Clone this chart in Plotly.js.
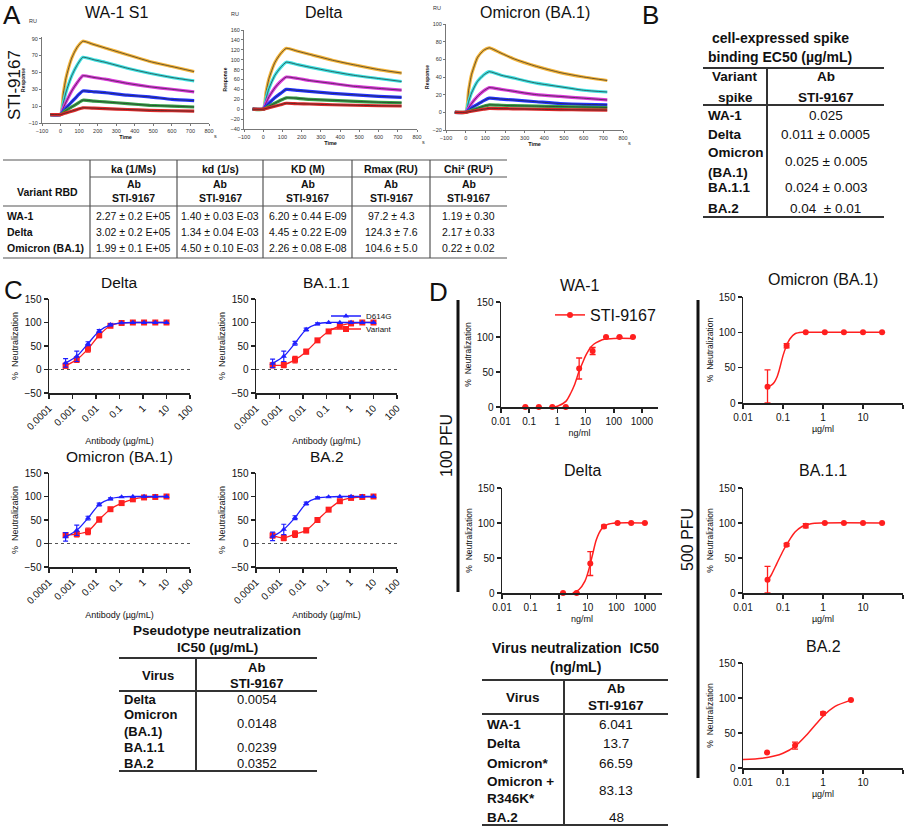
<!DOCTYPE html>
<html>
<head>
<meta charset="utf-8">
<script src="https://cdn.plot.ly/plotly-3.0.1.min.js"></script>
<style>body{margin:0;background:#fff}#grafico{width:911px;height:827px}</style>
</head>
<body>
<div id="grafico"></div>
<script>
// ---------------- datos panel A (sensorgramas, RU vs s)
let tiempos = [-55, 0, 15, 30, 60, 90, 120, 180, 240, 360, 480, 600, 720];
let curvasWA1 = [
    [0, 0, 25, 44, 67, 80, 87, 83, 79, 71, 63, 57, 51],
    [0, 0, 14, 27, 46, 59, 68, 65, 62, 55, 49, 44, 40],
    [0, 0, 8, 15, 28, 38, 46, 44, 42, 37, 33, 30, 27],
    [0, 0, 4, 8, 15, 22, 28, 27, 26, 23, 21, 18, 16.5],
    [0, 0, 2.5, 5, 9, 13, 17, 16, 15, 13, 11, 10, 9],
    [0, 0, 1, 2, 4, 6, 8, 7.6, 7, 6, 5, 4.5, 4]
];
let curvasDelta = [
    [0, 0, 35, 62, 94, 112, 123, 117, 111, 99, 89, 80, 73],
    [0, 0, 22, 42, 68, 84, 95, 90, 85, 76, 68, 62, 56],
    [0, 0, 13, 25, 43, 56, 65, 62, 58, 52, 46, 42, 38.5],
    [0, 0, 6, 12, 23, 32, 40, 38, 36, 32, 29, 26, 24],
    [0, 0, 3, 6, 12, 18, 23, 22, 20, 18, 16, 14, 13],
    [0, 0, 1.5, 3, 6, 9, 12, 11, 10.5, 9, 8, 7, 6.5]
];
let curvasOmicron = [
    [0, 0, 25, 43, 62, 70, 73, 67, 61, 52, 45, 40, 36],
    [0, 0, 12, 22, 35, 42, 46, 42, 39, 33, 29, 25, 23],
    [0, 0, 5, 10, 18, 24, 28, 26, 24, 20, 18, 16, 14],
    [0, 0, 2.5, 5, 9, 13, 16, 15, 14, 12, 10, 9, 8.5],
    [0, 0, 1.2, 2.4, 4.6, 6.8, 8.5, 8, 7.5, 7, 6.5, 6, 5.5],
    [0, 0, 0.6, 1.2, 2.4, 3.5, 4.5, 4.2, 4, 3.5, 3, 2.8, 2.5]
];
let coloresSensor = ['#f5b53a', '#3fe3e3', '#dc3adc', '#2233ff', '#36a046', '#dd2a2a'];

// tabla A
let columnasA = ['ka (1/Ms)', 'kd (1/s)', 'KD (M)', 'Rmax (RU)', 'Chi² (RU²)'];
let variantesRBD = ['WA-1', 'Delta', 'Omicron (BA.1)'];
let valoresKa = ['2.27 ± 0.2 E+05', '3.02 ± 0.2 E+05', '1.99 ± 0.1 E+05'];
let valoresKd = ['1.40 ± 0.03 E-03', '1.34 ± 0.04 E-03', '4.50 ± 0.10 E-03'];
let valoresKD = ['6.20 ± 0.44 E-09', '4.45 ± 0.22 E-09', '2.26 ± 0.08 E-08'];
let valoresRmax = ['97.2 ± 4.3', '124.3 ± 7.6', '104.6 ± 5.0'];
let valoresChi = ['1.19 ± 0.30', '2.17 ± 0.33', '0.22 ± 0.02'];

// tabla B
let variantesSpike = ['WA-1', 'Delta', 'Omicron\n(BA.1)', 'BA.1.1', 'BA.2'];
let ec50Spike = ['0.025', '0.011 ± 0.0005', '0.025 ± 0.005', '0.024 ± 0.003', '0.04  ± 0.01'];

// ---------------- datos panel C (pseudovirus, ug/mL)
let concC = [0.000508, 0.00152, 0.00457, 0.0137, 0.0412, 0.123, 0.370, 1.11, 3.33, 10];
let deltaD614G = [14, 28, 55, 82, 95, 99, 100, 100, 100, 100];
let deltaVar = [8, 21, 44, 73, 93, 99, 100, 100, 100, 100];
let ba11D614G = [13, 28, 56, 85, 97, 100, 100, 100, 100, 100];
let ba11Var = [9, 10, 21, 38, 62, 81, 93, 98, 100, 100];
let omiD614G = [14, 28, 54, 83, 95, 99, 100, 100, 100, 100];
let omiVar = [18, 20, 26, 51, 73, 86, 94, 98, 99, 100];
let ba2D614G = [15, 30, 55, 85, 97, 99, 100, 100, 100, 100];
let ba2Var = [17, 12, 20, 28, 50, 72, 90, 97, 99, 100];
let errD614G = [9, 11, 4, 3, 2, 0, 0, 0, 0, 0];
let errVar = [5, 6, 7, 5, 3, 2, 2, 0, 0, 0];

let virusPseudo = ['Delta', 'Omicron\n(BA.1)', 'BA.1.1', 'BA.2'];
let ic50Pseudo = ['0.0054', '0.0148', '0.0239', '0.0352'];

// ---------------- datos panel D (virus vivo)
let wa1Conc = [0.073, 0.22, 0.66, 1.98, 5.93, 17.8, 53.3, 160, 480];
let wa1Neut = [0, 0, 0, 0, 55, 80, 100, 100, 100];
let wa1Err = [0, 0, 0, 0, 15, 5, 0, 0, 0];
let wa1AjX = [0.8, 1, 2, 3, 4, 6, 8, 10, 15, 20, 30, 50, 100, 480];
let wa1AjY = [0, 1, 8, 20, 31, 52, 64, 73, 85, 90, 94, 97, 98, 98];

let deltaConc = [1.37, 4.1, 12.3, 37, 111, 333, 1000];
let deltaNeut = [0, 0, 42, 95, 100, 100, 100];
let deltaErr = [0, 0, 17, 2, 0, 0, 0];
let deltaAjX = [3, 5, 8, 10, 12, 15, 20, 30, 50, 100, 1000];
let deltaAjY = [0, 5, 17, 28, 40, 56, 76, 91, 98, 100, 100];

let omiConc = [0.041, 0.123, 0.37, 1.11, 3.33, 10, 30];
let omiNeut = [23, 81, 100, 100, 100, 100, 100];
let omiErr = [24, 3, 0, 0, 0, 0, 0];
let omiAjX = [0.041, 0.05, 0.06, 0.07, 0.08, 0.1, 0.12, 0.15, 0.2, 0.3, 1, 30];
let omiAjY = [23, 25, 29, 36, 46, 67, 80, 91, 98, 100, 100, 100];

let ba11Conc = [0.041, 0.123, 0.37, 1.11, 3.33, 10, 30];
let ba11Neut = [19, 69, 96, 100, 100, 100, 100];
let ba11Err = [19, 2, 3, 0, 0, 0, 0];
let ba11AjX = [0.041, 0.05, 0.07, 0.1, 0.123, 0.15, 0.2, 0.3, 0.5, 1, 30];
let ba11AjY = [18, 25, 42, 60, 69, 77, 87, 95, 99, 100, 100];

let ba2Conc = [0.04, 0.2, 1, 5];
let ba2Neut = [22, 32, 78, 97];
let ba2Err = [0, 5, 2, 0];
let ba2AjX = [0.01, 0.03, 0.06, 0.1, 0.2, 0.4, 0.7, 1, 2, 5];
let ba2AjY = [12, 14, 17, 21, 31, 48, 64, 74, 88, 97];

let virusVivo = ['WA-1', 'Delta', 'Omicron*', 'Omicron +\nR346K*', 'BA.2'];
let ic50Vivo = ['6.041', '13.7', '66.59', '83.13', '48'];

////////////////////////////////////////////////////////////////
const W = 911, H = 827;
const FUENTE = 'Liberation Sans, Arial, sans-serif';
const AZUL = '#1f1fff', ROJO = '#ff1f1f';
let trazas = [];
let anotaciones = [];
let formas = [];
let leyendaChica = {xanchor: 'left', yanchor: 'middle', font: {size: 8}, bgcolor: 'rgba(0,0,0,0)', itemwidth: 30,
    borderwidth: 0};
let layout = {
    width: W, height: H,
    margin: {l: 0, r: 0, t: 0, b: 0},
    paper_bgcolor: '#fff', plot_bgcolor: '#fff',
    font: {family: FUENTE, color: '#111'},
    showlegend: true,
    legend: Object.assign({x: 326 / W, y: 1 - 316 / H}, leyendaChica),
    legend3: Object.assign({x: 326 / W, y: 1 - 329 / H}, leyendaChica),
    legend2: {x: 550 / W, y: 1 - 315 / H, xanchor: 'left', yanchor: 'middle', font: {size: 16}, bgcolor: 'rgba(0,0,0,0)', itemwidth: 30}
};

function ids(n) {
    return n === 1 ? ['x', 'y', 'xaxis', 'yaxis'] : ['x' + n, 'y' + n, 'xaxis' + n, 'yaxis' + n];
}
function texto(t, x, y, size, extra) {
    let a = {text: t, x: x / W, y: 1 - y / H, xref: 'paper', yref: 'paper', showarrow: false,
        xanchor: 'center', yanchor: 'middle', font: {family: FUENTE, size: size, color: '#111'}};
    return Object.assign(a, extra || {});
}
function linea(x0, y0, x1, y1, w, color) {
    formas.push({type: 'line', xref: 'paper', yref: 'paper', x0: x0 / W, x1: x1 / W, y0: 1 - y0 / H, y1: 1 - y1 / H,
        line: {color: color || '#333', width: w || 1}});
}

// ---------------- panel A
function ejesSensor(n, x0, x1, y0, y1, rangoY) {
    let [xa, ya, kx, ky] = ids(n);
    let estilo = {showline: true, linecolor: '#777', linewidth: 1, ticks: 'outside', ticklen: 2, tickcolor: '#777',
        tickfont: {size: 5.5, color: '#333'}, showgrid: false, zeroline: false};
    layout[kx] = Object.assign({domain: [x0 / W, x1 / W], anchor: ya, range: [-100, 800], dtick: 100,
        title: {text: '<b>Time</b>', font: {size: 5.5}, standoff: 1}}, estilo);
    layout[ky] = Object.assign({domain: [1 - y1 / H, 1 - y0 / H], anchor: xa, range: rangoY, tick0: rangoY[0], dtick: 20,
        title: {text: '<b>Response</b>', font: {size: 5}, standoff: 2}}, estilo);
    anotaciones.push(texto('RU', x0 - 9, y0 - 16, 5.5, {font: {size: 5.5, color: '#333'}}));
    anotaciones.push(texto('s', x1 + 6, y1 + 13, 5.5, {font: {size: 5.5, color: '#333'}}));
}
function curvasSensor(n, curvas) {
    let [xa, ya] = ids(n);
    curvas.forEach(function (c, i) {
        trazas.push({x: tiempos, y: c, xaxis: xa, yaxis: ya, mode: 'lines', showlegend: false, hoverinfo: 'skip',
            line: {color: coloresSensor[i], width: 3.2, shape: 'spline', smoothing: 0.5}});
        trazas.push({x: tiempos, y: c, xaxis: xa, yaxis: ya, mode: 'lines', showlegend: false, hoverinfo: 'skip',
            line: {color: 'rgba(40,40,40,0.85)', width: 0.8, shape: 'spline', smoothing: 0.5}});
    });
}
ejesSensor(1, 42, 209, 37, 123, [-10, 92]);
ejesSensor(2, 244, 417, 30, 129, [-40, 160]);
ejesSensor(3, 446, 623, 24, 130, [-20, 100]);
curvasSensor(1, curvasWA1);
curvasSensor(2, curvasDelta);
curvasSensor(3, curvasOmicron);
anotaciones.push(texto('WA-1 S1', 117, 12, 16));
anotaciones.push(texto('Delta', 323, 12, 16));
anotaciones.push(texto('Omicron (BA.1)', 535, 12, 16));
anotaciones.push(texto('A', 12, 15, 26));
anotaciones.push(texto('STI-9167', 14, 85, 17, {textangle: -90}));

// tabla A
let lineasA = [90, 177, 263, 352, 430, 507];
linea(3, 160, 507, 160, 1.2, '#555');
linea(90, 177, 507, 177, 1.2, '#555');
linea(3, 206, 507, 206, 1.2, '#555');
linea(3, 258, 507, 258, 1.2, '#555');
for (let i = 0; i < 5; i++) linea(lineasA[i], 160, lineasA[i], 258, 1.2, '#555');
let valoresA = [valoresKa, valoresKd, valoresKD, valoresRmax, valoresChi];
anotaciones.push(texto('<b>Variant RBD</b>', 47, 192, 10.5));
for (let j = 0; j < 5; j++) {
    let cx = (lineasA[j] + lineasA[j + 1]) / 2;
    anotaciones.push(texto('<b>' + columnasA[j] + '</b>', cx, 169, 10.5));
    anotaciones.push(texto('<b>Ab</b>', cx, 184, 10.5));
    anotaciones.push(texto('<b>STI-9167</b>', cx, 198, 10.5));
    for (let i = 0; i < 3; i++) anotaciones.push(texto(valoresA[j][i], cx, 216 + 16 * i, 10.5));
}
variantesRBD.forEach(function (v, i) {
    anotaciones.push(texto('<b>' + v + '</b>', 5, 216 + 16 * i, 10.5, {xanchor: 'left'}));
});

// ---------------- tablas (B, C, D) con una columna de valores
function tablaSimple(cfg) {
    let f = cfg.fuente;
    cfg.titulo.forEach(function (t, i) {
        anotaciones.push(texto('<b>' + t + '</b>', cfg.cxTitulo, cfg.yTitulo[i], f + 0.5));
    });
    linea(cfg.x0, cfg.yTop, cfg.x1, cfg.yTop, 2, '#333');
    linea(cfg.x0, cfg.yMid, cfg.x1, cfg.yMid, 2, '#333');
    linea(cfg.x0, cfg.yBot, cfg.x1, cfg.yBot, 2, '#333');
    linea(cfg.xv, cfg.yTop, cfg.xv, cfg.yBot, 2, '#333');
    let cIzq = (cfg.x0 + cfg.xv) / 2, cDer = (cfg.xv + cfg.x1) / 2;
    cfg.cabIzq.forEach(function (t, i) {
        anotaciones.push(texto('<b>' + t + '</b>', cIzq, cfg.yCabIzq[i], f));
    });
    anotaciones.push(texto('<b>Ab</b>', cDer, cfg.yCab[0], f));
    anotaciones.push(texto('<b>STI-9167</b>', cDer, cfg.yCab[1], f));
    cfg.etiquetas.forEach(function (et, i) {
        let partes = et.split('\n');
        let yc = cfg.yFilas[i];
        partes.forEach(function (p, k) {
            let yy = yc + (k - (partes.length - 1) / 2) * cfg.interlinea;
            anotaciones.push(texto('<b>' + p + '</b>', cfg.x0 + 3, yy, f, {xanchor: 'left'}));
        });
        anotaciones.push(texto(cfg.valores[i], cDer, yc, f));
    });
}
tablaSimple({fuente: 13.5, titulo: ['cell-expressed spike', 'binding EC50 (µg/mL)'], cxTitulo: 780, yTitulo: [38, 57],
    x0: 703, x1: 884, xv: 767, yTop: 68, yMid: 105, yBot: 217,
    cabIzq: ['Variant', 'spike'], yCabIzq: [77, 97], yCab: [77, 97],
    etiquetas: variantesSpike, valores: ec50Spike, yFilas: [115, 134, 162, 188, 208], interlinea: 20});
anotaciones.push(texto('B', 650, 15, 26));

tablaSimple({fuente: 13, titulo: ['Pseudotype neutralization', 'IC50 (µg/mL)'], cxTitulo: 217, yTitulo: [630, 647],
    x0: 119, x1: 317, xv: 196, yTop: 658, yMid: 691, yBot: 771,
    cabIzq: ['Virus'], yCabIzq: [675], yCab: [667, 683],
    etiquetas: virusPseudo, valores: ic50Pseudo, yFilas: [699, 723, 747, 763], interlinea: 17});

tablaSimple({fuente: 13.5, titulo: ['Virus neutralization&nbsp; IC50', '(ng/mL)'], cxTitulo: 575, yTitulo: [648, 667],
    x0: 482, x1: 668, xv: 564, yTop: 680, yMid: 714, yBot: 825,
    cabIzq: ['Virus'], yCabIzq: [697], yCab: [688, 705],
    etiquetas: virusVivo, valores: ic50Vivo, yFilas: [724, 743, 763, 790, 817], interlinea: 17});

// ---------------- panel C
function ejesC(n, x0, x1, y0, y1, titulo) {
    let [xa, ya, kx, ky] = ids(n);
    let estilo = {showline: true, linecolor: '#222', linewidth: 1.5, ticks: 'outside', ticklen: 4, tickwidth: 1.5,
        tickcolor: '#222', tickfont: {size: 10, color: '#111'}, showgrid: false, zeroline: false};
    layout[kx] = Object.assign({domain: [x0 / W, x1 / W], anchor: ya, type: 'log', range: [-4, 2],
        tickvals: [0.0001, 0.001, 0.01, 0.1, 1, 10, 100], ticktext: ['0.0001', '0.001', '0.01', '0.1', '1', '10', '100'],
        tickangle: -45, title: {text: 'Antibody (µg/mL)', font: {size: 9}, standoff: 6}}, estilo);
    layout[ky] = Object.assign({domain: [1 - y1 / H, 1 - y0 / H], anchor: xa, range: [-50, 150], dtick: 50,
        title: {text: '%  Neutralization', font: {size: 9}, standoff: 4}}, estilo);
    formas.push({type: 'line', xref: xa + ' domain', yref: ya, x0: 0, x1: 1, y0: 0, y1: 0,
        line: {color: '#555', width: 1, dash: 'dot'}});
    anotaciones.push(texto(titulo, (x0 + x1) / 2, y0 - 17, 15.5));
}
function curvasC(n, variante, d614g, leyenda) {
    let [xa, ya] = ids(n);
    trazas.push({x: concC, y: variante, xaxis: xa, yaxis: ya, mode: 'lines+markers', name: 'Variant',
        showlegend: leyenda, legend: 'legend3', cliponaxis: false,
        line: {color: ROJO, width: 1.3, shape: 'spline', smoothing: 0.8},
        marker: {symbol: 'square', size: 6, color: ROJO},
        error_y: {type: 'data', array: errVar, color: ROJO, thickness: 1.2, width: 2.5}});
    trazas.push({x: concC, y: d614g, xaxis: xa, yaxis: ya, mode: 'lines+markers', name: 'D614G',
        showlegend: leyenda, legend: 'legend', cliponaxis: false,
        line: {color: AZUL, width: 1.3, shape: 'spline', smoothing: 0.8},
        marker: {symbol: 'triangle-up', size: 5.5, color: AZUL},
        error_y: {type: 'data', array: errD614G, color: AZUL, thickness: 1.2, width: 2.5}});
}
ejesC(4, 49, 190, 299, 393, 'Delta');
ejesC(5, 256, 397, 299, 393, 'BA.1.1');
ejesC(6, 49, 190, 473, 567, 'Omicron (BA.1)');
ejesC(7, 256, 397, 473, 567, 'BA.2');
curvasC(4, deltaVar, deltaD614G, false);
curvasC(5, ba11Var, ba11D614G, true);
curvasC(6, omiVar, omiD614G, false);
curvasC(7, ba2Var, ba2D614G, false);
anotaciones.push(texto('C', 13, 290, 26));

// ---------------- panel D
function ejesD(n, x0, x1, y0, y1, rangoX, tvals, tituloX, titulo) {
    let [xa, ya, kx, ky] = ids(n);
    let estilo = {showline: true, linecolor: '#222', linewidth: 1.5, ticks: 'outside', ticklen: 4, tickwidth: 1.5,
        tickcolor: '#222', tickfont: {size: 10, color: '#111'}, showgrid: false, zeroline: false};
    layout[kx] = Object.assign({domain: [x0 / W, x1 / W], anchor: ya, type: 'log', range: rangoX,
        tickvals: tvals, ticktext: tvals.map(String), title: {text: tituloX, font: {size: 9}, standoff: 4}}, estilo);
    layout[ky] = Object.assign({domain: [1 - y1 / H, 1 - y0 / H], anchor: xa, range: [0, 150], dtick: 50,
        title: {text: '%  Neutralization', font: {size: 8.5}, standoff: 4}}, estilo);
    anotaciones.push(texto(titulo, (x0 + x1) / 2, y0 - 17, 16));
}
function curvasD(n, conc, neut, err, ajX, ajY) {
    let [xa, ya] = ids(n);
    trazas.push({x: ajX, y: ajY, xaxis: xa, yaxis: ya, mode: 'lines', showlegend: false, cliponaxis: false,
        line: {color: ROJO, width: 1.5, shape: 'spline', smoothing: 0.8}, hoverinfo: 'skip'});
    trazas.push({x: conc, y: neut, xaxis: xa, yaxis: ya, mode: 'markers', showlegend: false, cliponaxis: false,
        marker: {symbol: 'circle', size: 6, color: ROJO},
        error_y: {type: 'data', symmetric: false, array: err, arrayminus: err.map(function (e, i) { return Math.min(e, neut[i]); }),
            color: ROJO, thickness: 1.3, width: 3}});
}
let ticksNg = [0.01, 0.1, 1, 10, 100, 1000];
let ticksUg = [0.01, 0.1, 1, 10, 100];
ejesD(8, 501, 658, 302, 407, [-2, 3.57], ticksNg, 'ng/ml', 'WA-1');
ejesD(9, 502, 662, 488, 593, [-2, 3.6], ticksNg, 'ng/ml', 'Delta');
ejesD(10, 743, 903, 297, 403, [-2, 2], ticksUg, 'µg/ml', 'Omicron (BA.1)');
ejesD(11, 743, 903, 488, 593, [-2, 2], ticksUg, 'µg/ml', 'BA.1.1');
ejesD(12, 743, 903, 663, 768, [-2, 2], ticksUg, 'µg/ml', 'BA.2');
curvasD(8, wa1Conc, wa1Neut, wa1Err, wa1AjX, wa1AjY);
curvasD(9, deltaConc, deltaNeut, deltaErr, deltaAjX, deltaAjY);
curvasD(10, omiConc, omiNeut, omiErr, omiAjX, omiAjY);
curvasD(11, ba11Conc, ba11Neut, ba11Err, ba11AjX, ba11AjY);
curvasD(12, ba2Conc, ba2Neut, ba2Err, ba2AjX, ba2AjY);
// entrada de leyenda para D (sin puntos)
trazas.push({x: [null], y: [null], xaxis: 'x8', yaxis: 'y8', mode: 'lines+markers', name: 'STI-9167', legend: 'legend2',
    showlegend: true, line: {color: ROJO, width: 1.5}, marker: {color: ROJO, size: 6}});

linea(458, 300, 458, 592, 3, '#111');
linea(698, 300, 698, 778, 3, '#111');
anotaciones.push(texto('100 PFU', 446, 446, 16, {textangle: -90}));
anotaciones.push(texto('500 PFU', 687, 540, 16, {textangle: -90}));
anotaciones.push(texto('D', 438, 292, 26));

layout.annotations = anotaciones;
layout.shapes = formas;
let contenedor = document.getElementById('grafico');
Plotly.newPlot(contenedor, trazas, layout, {displayModeBar: false, staticPlot: true});
</script>
</body>
</html>
